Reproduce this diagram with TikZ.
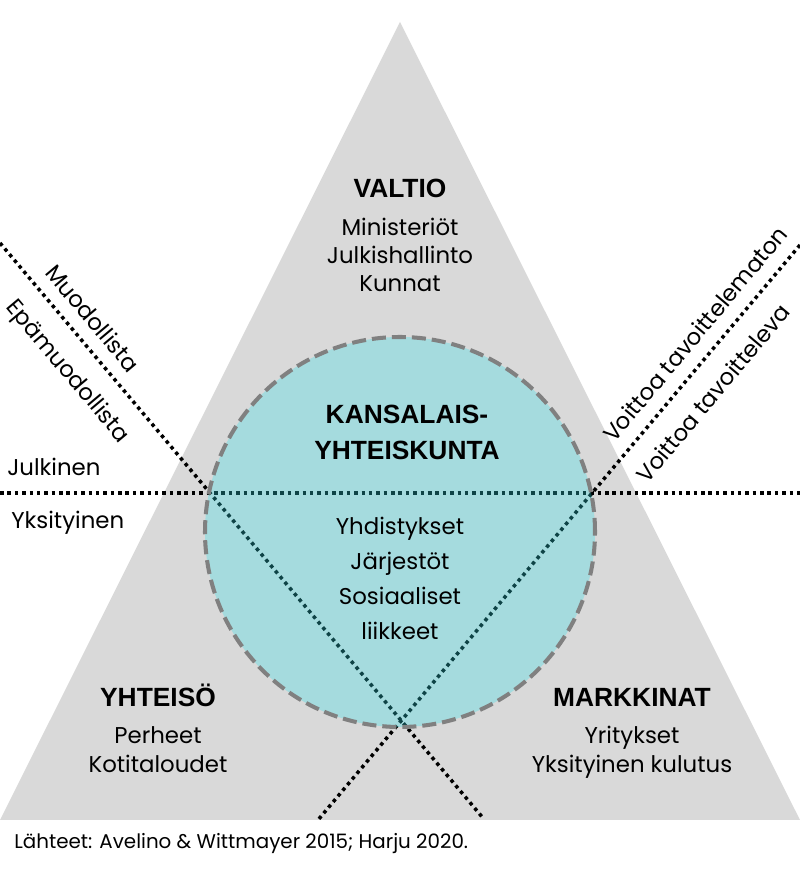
\documentclass[tikz,border=0pt]{standalone}
\usepackage{fontspec}
\setmainfont{Poppins}
\newfontfamily\headfont{Liberation Sans}
\usetikzlibrary{positioning}

\definecolor{trigray}{HTML}{D9D9D9}
\definecolor{civteal}{RGB}{47,224,234}
\definecolor{rimgray}{HTML}{808080}

\tikzset{
    dotline/.style={line width=2pt, dash pattern=on 2pt off 2.2pt},
    rimline/.style={draw=rimgray, line width=2.3pt, dash pattern=on 8pt off 3.4pt},
    head/.style={font=\headfont\bfseries\fontsize{15}{21}\selectfont, align=center, inner sep=0pt, anchor=base},
    item/.style={font=\fontsize{13}{16}\selectfont, align=center, inner sep=0pt, anchor=base},
    side/.style={font=\fontsize{13}{16}\selectfont, inner sep=0pt}
}

\begin{document}
\begin{tikzpicture}[x=0.02cm, y=0.02cm]
\useasboundingbox (0,0) rectangle (800,875);

% corners of the triangle
\coordinate (T0) at (400,853);
\coordinate (T1) at (0,55);
\coordinate (T2) at (800,55);

% ends of the dotted lines
\coordinate (H0) at (0,382);
\coordinate (H1) at (800,382);
\coordinate (L0) at (0,632);
\coordinate (L1) at (483,57);
\coordinate (R0) at (800,630);
\coordinate (R1) at (318,55);

\fill[trigray] (T0) -- (T1) -- (T2) -- cycle;

\draw[dotline] (H0) -- (H1);
\draw[dotline] (L0) -- (L1);
\draw[dotline] (R0) -- (R1);

\fill[civteal, fill opacity=0.3] (400,343) circle (195);
\draw[rimline] (400,343) circle (195);


% the base of a node is the baseline of its last line
\node[head] (valtio) at (400,677) {VALTIO};
\node[item] (valtiolist) at (400,583) {Ministeriöt\\Julkishallinto\\Kunnat};

\node[head] (kansalais) at (407,415) {KANSALAIS-\\YHTEISKUNTA};
\node[item, font=\fontsize{13}{20}\selectfont] (kansalaislist) at (400,235) {Yhdistykset\\Järjestöt\\Sosiaaliset\\liikkeet};

\node[head] (yhteiso) at (158,168) {YHTEISÖ};
\node[item, font=\fontsize{13}{17}\selectfont] (yhteisolist) at (158,102) {Perheet\\Kotitaloudet};

\node[head] (markkinat) at (632,168) {MARKKINAT};
\node[item, font=\fontsize{13}{17}\selectfont] (markkinatlist) at (632,102) {Yritykset\\Yksityinen kulutus};


\node[side, anchor=base west] (julkinen) at (7,399) {Julkinen};
\node[side, anchor=base west] (yksityinen) at (11,346) {Yksityinen};

\node[side, rotate=-50] (muodollista) at (93,557) {Muodollista};
\node[side, rotate=-50] (epamuodollista) at (67,503) {Epämuodollista};
\node[side, rotate=50] (voittoton) at (695,541) {Voittoa tavoittelematon};
\node[side, rotate=50] (voitollinen) at (713,482) {Voittoa tavoitteleva};

\node[side, font=\fontsize{11.3}{13}\selectfont, anchor=base west] (lahteet) at (14,27) {Lähteet: Avelino \& Wittmayer 2015; Harju 2020.};

\end{tikzpicture}
\end{document}
